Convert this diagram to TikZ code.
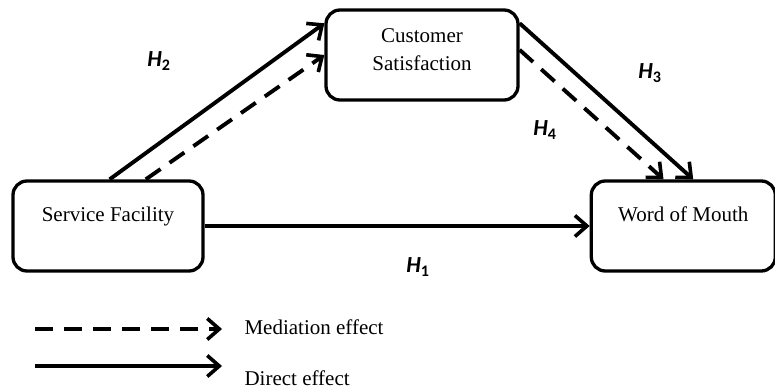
\documentclass[tikz,border=0pt]{standalone}
\usepackage{fontspec}
\setmainfont{Liberation Serif}
\newfontfamily\hypfont{Carlito}
\usetikzlibrary{arrows.meta,positioning}

\begin{document}
\begin{tikzpicture}[x=1pt,y=-1pt,>={Straight Barb[length=12pt,width=21pt,line width=3.6pt]},
  box/.style={draw,rounded corners=14pt,line width=3.3pt,minimum width=190pt,minimum height=90pt,align=center,font=\fontsize{21}{28}\selectfont},
  hyp/.style={font=\hypfont\fontsize{23}{26}\selectfont\bfseries\itshape},
  legendtext/.style={anchor=west,font=\fontsize{21}{25}\selectfont},
  direct/.style={->,line width=3.9pt},
  mediation/.style={->,line width=3.9pt,dash pattern=on 18pt off 11pt}]

  \useasboundingbox (0,0) rectangle (775,390);

  \node[box,text depth=24pt] (sf) at (108,226) {Service Facility};
  \node[box,text depth=24pt,minimum width=184pt] (wom) [right=385pt of sf] {Word of Mouth};
  \node[box,minimum width=192pt,text depth=10pt] (cs) at (422,55) {Customer\\Satisfaction};

  % hypotheses
  \node[hyp] (h1) at (418,267) {H\textsubscript{\upshape 1}};
  \node[hyp] (h2) at (159,61) {H\textsubscript{\upshape 2}};
  \node[hyp] (h3) at (650,73) {H\textsubscript{\upshape 3}};
  \node[hyp] (h4) at (545,130) {H\textsubscript{\upshape 4}};

  \draw[direct] (sf.east) -- (wom.west);
  \draw[direct] (sf.88) -- (cs.162);
  \draw[mediation] (sf.51) -- (cs.west);
  \draw[direct] (cs.18) -- (wom.78);
  \draw[mediation] (cs.3) -- (wom.113);

  % legend
  \coordinate (medA) at (35,329);
  \coordinate (medB) at (222,329);
  \coordinate (dirA) at (35,366);
  \coordinate (dirB) at (222,366);
  \draw[mediation] (medA) -- (medB);
  \draw[direct] (dirA) -- (dirB);
  \node[legendtext] (medtxt) at (241,327) {Mediation effect};
  \node[legendtext] (dirtxt) at (241,378) {Direct effect};

\end{tikzpicture}
\end{document}
